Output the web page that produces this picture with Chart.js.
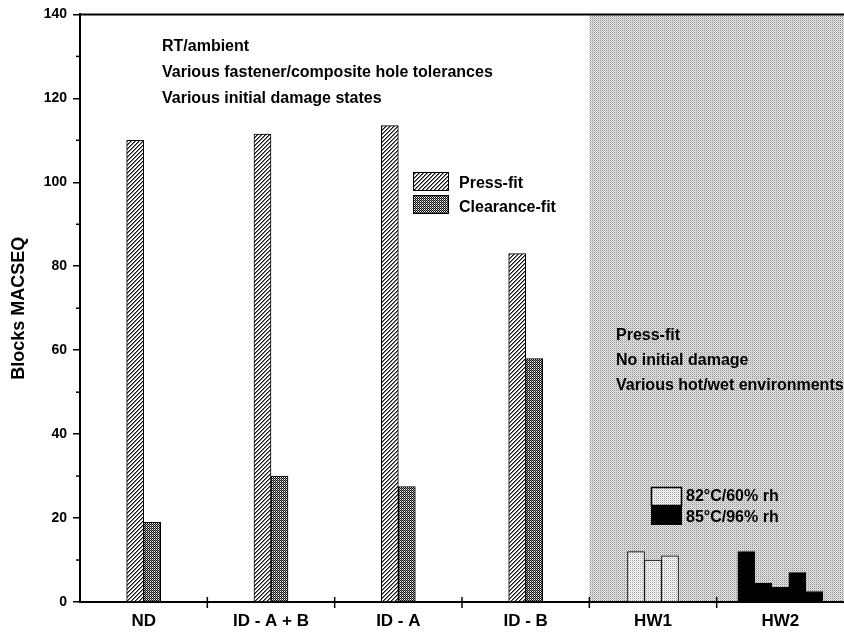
<!DOCTYPE html>
<html>
<head>
<meta charset="utf-8">
<script src="https://cdn.jsdelivr.net/npm/chart.js@4/dist/chart.umd.min.js"></script>
<style>
  html, body { margin: 0; padding: 0; background: #fff; }
  #chart { display: block; }
</style>
</head>
<body>
<canvas id="chart" width="844" height="636"></canvas>
<script>
// Fatigue life in blocks of MACSEQ loading
const categories = ['ND', 'ID - A + B', 'ID - A', 'ID - B', 'HW1', 'HW2'];
const pressFit = [110, 111.5, 113.5, 83];
const clearanceFit = [19, 30, 27.5, 58];
const hw1Blocks = [12, 10, 11];            // 82°C/60% rh, press-fit, no initial damage
const hw2Blocks = [12, 4.5, 3.5, 7, 2.5];  // 85°C/96% rh, press-fit, no initial damage
const yMin = 0, yMax = 140, yStep = 20, yMinorStep = 10;

const notesTopLeft = ['RT/ambient', 'Various fastener/composite hole tolerances', 'Various initial damage states'];
const notesHotWet = ['Press-fit', 'No initial damage', 'Various hot/wet environments'];
const legendFit = ['Press-fit', 'Clearance-fit'];
const legendEnv = ['82°C/60% rh', '85°C/96% rh'];

const FONT = "'Liberation Sans', Arial, Helvetica, sans-serif";

// Small tiled fills for hatched / stippled bars
function tile(size, paint) {
  const c = document.createElement('canvas');
  c.width = c.height = size;
  const g = c.getContext('2d');
  g.fillStyle = '#fff';
  g.fillRect(0, 0, size, size);
  paint(g);
  return g.createPattern(c, 'repeat');
}
function px(g, x, y, col) { g.fillStyle = col; g.fillRect(x, y, 1, 1); }

const hatch = tile(4, g => {
  for (let x = 0; x < 4; x++) for (let y = 0; y < 4; y++) {
    const k = (x + y) % 4;
    if (k === 3) px(g, x, y, '#111');
    else if (k === 0) px(g, x, y, '#7a7a7a');
  }
});
const darkStipple = tile(2, g => {
  px(g, 0, 0, '#111'); px(g, 1, 1, '#111'); px(g, 1, 0, '#8a8a8a');
});
const lightStipple = tile(2, g => {
  px(g, 0, 0, '#a0a0a0'); px(g, 1, 1, '#dcdcdc');
});
const shade = tile(2, g => {
  px(g, 0, 0, '#8e8e8e'); px(g, 1, 1, '#c4c4c4'); px(g, 1, 0, '#e6e6e6'); px(g, 0, 1, '#e6e6e6');
});

const pad = (arr) => categories.map((_, i) => (i < arr.length ? arr[i] : null));
const only = (idx, v) => categories.map((_, i) => (i === idx ? v : null));

const datasets = [
  { label: legendFit[0], data: pad(pressFit), backgroundColor: hatch, borderColor: '#000', borderWidth: 1 },
  { label: legendFit[1], data: pad(clearanceFit), backgroundColor: darkStipple, borderColor: '#000', borderWidth: 1 },
];
hw1Blocks.forEach((v, i) => datasets.push({
  label: legendEnv[0] + ' #' + (i + 1), data: only(4, v),
  backgroundColor: lightStipple, borderColor: '#000', borderWidth: 1
}));
hw2Blocks.forEach((v, i) => datasets.push({
  label: legendEnv[1] + ' #' + (i + 1), data: only(5, v),
  backgroundColor: '#000', borderColor: '#000', borderWidth: 1
}));

function line(ctx, x1, y1, x2, y2, w) {
  ctx.beginPath();
  ctx.lineWidth = w;
  ctx.moveTo(x1, y1);
  ctx.lineTo(x2, y2);
  ctx.stroke();
}

const decorations = {
  id: 'decorations',
  beforeDraw(chart) {
    const { ctx, scales: { x, y } } = chart;
    // shaded hot/wet panel
    const xStart = (x.getPixelForTick(3) + x.getPixelForTick(4)) / 2;
    const yTop = y.getPixelForValue(yMax);
    const yBot = y.getPixelForValue(0);
    ctx.save();
    ctx.fillStyle = shade;
    ctx.fillRect(xStart, yTop, chart.width - xStart, yBot - yTop);
    ctx.restore();
  },
  afterDraw(chart) {
    const { ctx, chartArea, scales: { x, y } } = chart;
    ctx.save();
    ctx.strokeStyle = '#000';
    ctx.fillStyle = '#000';
    // frame line along the top of the value range
    const yTop = y.getPixelForValue(yMax);
    line(ctx, chartArea.left, yTop, chart.width, yTop, 2);
    // minor value ticks
    for (let v = yMin + yMinorStep; v < yMax; v += yStep) {
      const py = y.getPixelForValue(v);
      line(ctx, chartArea.left - 4, py, chartArea.left, py, 1.5);
    }
    // category boundary ticks
    const y0 = y.getPixelForValue(0);
    for (let i = 0; i < categories.length - 1; i++) {
      const bx = (x.getPixelForTick(i) + x.getPixelForTick(i + 1)) / 2;
      line(ctx, bx, y0 - 5, bx, y0 + 6, 1.5);
    }

    ctx.font = 'bold 16px ' + FONT;
    ctx.textBaseline = 'alphabetic';
    ctx.textAlign = 'left';
    // note blocks
    [51, 77, 103].forEach((by, i) => ctx.fillText(notesTopLeft[i], 162, by));
    [340, 365, 390].forEach((by, i) => ctx.fillText(notesHotWet[i], 616, by));

    // fit legend
    const fitFills = [hatch, darkStipple];
    [[172, 188], [195, 212]].forEach(([by, ty], i) => {
      ctx.fillStyle = fitFills[i];
      ctx.fillRect(413, by, 36, 19);
      ctx.lineWidth = 1;
      ctx.strokeRect(413.5, by + 0.5, 35, 18);
      ctx.fillStyle = '#000';
      ctx.fillText(legendFit[i], 459, ty);
    });

    // environment legend
    ctx.fillStyle = lightStipple;
    ctx.fillRect(651, 487, 31, 18);
    ctx.lineWidth = 1.5;
    ctx.strokeRect(651.5, 487.5, 30, 18);
    ctx.fillStyle = '#000';
    ctx.fillRect(651, 505, 31, 20);
    ctx.fillText(legendEnv[0], 686, 501);
    ctx.fillText(legendEnv[1], 686, 522);
    ctx.restore();
  }
};

new Chart(document.getElementById('chart'), {
  type: 'bar',
  data: { labels: categories, datasets },
  options: {
    responsive: false,
    animation: false,
    devicePixelRatio: 1,
    layout: { padding: { top: 14, right: 0, bottom: 0, left: 0 } },
    datasets: { bar: { barThickness: 17, skipNull: true, borderSkipped: 'start' } },
    plugins: { legend: { display: false }, tooltip: { enabled: false } },
    scales: {
      x: {
        grid: { display: false, drawTicks: false },
        border: { display: true, color: '#000', width: 2 },
        ticks: { color: '#000', padding: 9, font: { family: FONT, size: 17, weight: 'bold' } },
        afterFit(s) { s.height = 34; }
      },
      y: {
        min: yMin, max: yMax,
        ticks: { stepSize: yStep, color: '#000', padding: 6, font: { family: FONT, size: 14, weight: 'bold' } },
        grid: { drawOnChartArea: false, drawTicks: true, tickLength: 7, color: '#000', lineWidth: 1.5 },
        border: { display: true, color: '#000', width: 2 },
        title: {
          display: true, text: 'Blocks MACSEQ', color: '#000',
          font: { family: FONT, size: 18, weight: 'bold' }, padding: { top: 8, bottom: 0 }
        },
        afterFit(s) { s.width = 80; }
      }
    }
  },
  plugins: [decorations]
});
</script>
</body>
</html>
